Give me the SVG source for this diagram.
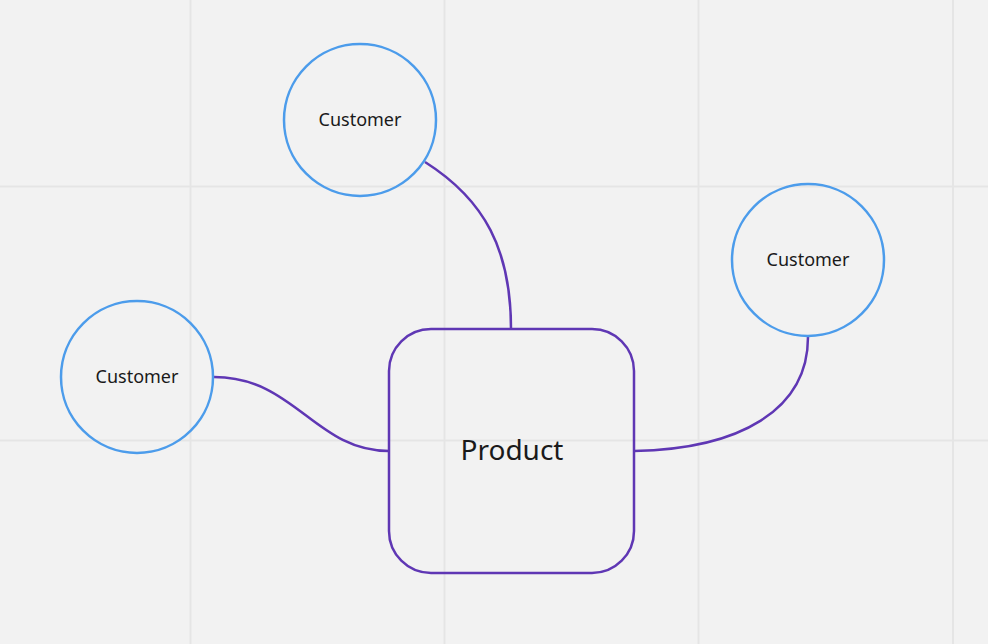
<svg xmlns="http://www.w3.org/2000/svg" width="988" height="644" viewBox="0 0 988 644">
<style>
.grid{stroke:#e5e5e5;stroke-width:2}
.cust{fill:none;stroke:#4c9ceb;stroke-width:2.5}
.prod{fill:none;stroke:#5f37b4;stroke-width:2.5}
.conn{fill:none;stroke:#5f37b4;stroke-width:2.5}
.t{font-family:"Noto Sans","Open Sans",sans-serif;fill:#1a1a1a;text-anchor:middle;dominant-baseline:central}
</style>
<rect width="988" height="644" fill="#f2f2f2"/>
<g id="grid">
<line class="grid" x1="190.5" y1="0" x2="190.5" y2="644"/>
<line class="grid" x1="444.5" y1="0" x2="444.5" y2="644"/>
<line class="grid" x1="698.5" y1="0" x2="698.5" y2="644"/>
<line class="grid" x1="953" y1="0" x2="953" y2="644"/>
<line class="grid" x1="0" y1="186.5" x2="988" y2="186.5"/>
<line class="grid" x1="0" y1="440.5" x2="988" y2="440.5"/>
</g>
<g id="connectors">
<path class="conn" d="M425,162 C485,200 511,250 511,329"/>
<path class="conn" d="M214,377 C295,377 315,451 389,451"/>
<path class="conn" d="M634,451 C740,449 808,410 808,337"/>
</g>
<g id="customer-top">
<circle class="cust" cx="360" cy="120" r="76"/>
<text class="t" x="360" y="119" font-size="18">Customer</text>
</g>
<g id="customer-right">
<circle class="cust" cx="808" cy="260" r="76"/>
<text class="t" x="808" y="259" font-size="18">Customer</text>
</g>
<g id="customer-left">
<circle class="cust" cx="137" cy="377" r="76"/>
<text class="t" x="137" y="376" font-size="18">Customer</text>
</g>
<g id="product">
<rect class="prod" x="389" y="329" width="245" height="244" rx="42"/>
<text class="t" x="512" y="449" font-size="28">Product</text>
</g>
</svg>
